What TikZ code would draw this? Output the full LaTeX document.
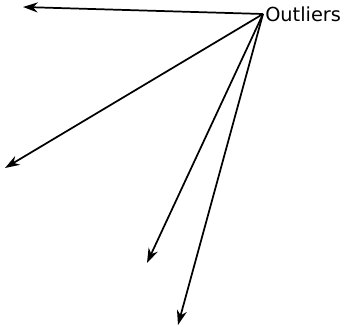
\documentclass[tikz,border=0pt]{standalone}
\usepackage{fontspec}
\setmainfont{DejaVu Sans}
\usetikzlibrary{arrows.meta}

\begin{document}
\begin{tikzpicture}[x=0.75pt,y=-0.75pt,
  outarrow/.style={-{Stealth[length=11pt,width=7.5pt,inset=3.5pt]},line width=1.3pt}]
\useasboundingbox (0,0) rectangle (347,327);
\fontsize{14.5}{17}\selectfont
\node[anchor=west,inner xsep=1.5pt,inner ysep=0pt] (outliers) at (263,14) {Outliers};
\coordinate (o1) at (23,7);
\coordinate (o2) at (5,168);
\coordinate (o3) at (147,263);
\coordinate (o4) at (178,325);
\draw[outarrow] (outliers.west) -- (o1);
\draw[outarrow] (outliers.west) -- (o2);
\draw[outarrow] (outliers.west) -- (o3);
\draw[outarrow] (outliers.west) -- (o4);
\end{tikzpicture}
\end{document}
